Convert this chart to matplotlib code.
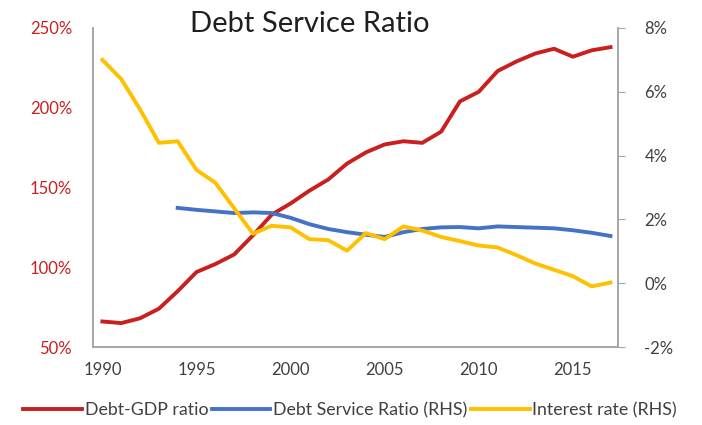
import matplotlib
matplotlib.use("Agg")
import matplotlib.pyplot as plt
from matplotlib.ticker import FuncFormatter

years = list(range(1990, 2018))
debt_gdp = [66, 65, 68, 74, 85, 97, 102, 108, 120, 133, 140, 148, 155, 165,
            172, 177, 179, 178, 185, 204, 210, 223, 229, 234, 237, 232, 236, 238]
dsr_years = list(range(1994, 2018))
dsr = [2.36, 2.3, 2.25, 2.2, 2.22, 2.2, 2.05, 1.85, 1.7, 1.6, 1.52, 1.45,
       1.6, 1.7, 1.75, 1.76, 1.72, 1.78, 1.76, 1.74, 1.72, 1.66, 1.58, 1.48]
interest = [7.0, 6.4, 5.45, 4.4, 4.45, 3.55, 3.15, 2.35, 1.55, 1.8, 1.75, 1.38,
            1.35, 1.02, 1.57, 1.38, 1.78, 1.65, 1.45, 1.32, 1.18, 1.12, 0.88,
            0.62, 0.42, 0.22, -0.1, 0.02]

left_ticks = [50, 100, 150, 200, 250]
right_ticks = [-2, 0, 2, 4, 6, 8]
x_ticks = [1990, 1995, 2000, 2005, 2010, 2015]

RED = "#C8201E"
BLUE = "#4472C4"
YELLOW = "#FFC000"
GRAY = "#404040"
SPINE = "#A6A6A6"

plt.rcParams['font.family'] = ['Lato', 'DejaVu Sans']

fig = plt.figure(figsize=(7.02, 4.25), dpi=100)
ax = fig.add_axes([93/702, 1-347/425, (618-93)/702, (347-28)/425])
ax2 = ax.twinx()

l1, = ax.plot(years, debt_gdp, color=RED, lw=2.8, solid_joinstyle='round',
              label="Debt-GDP ratio")
l2, = ax2.plot(dsr_years, dsr, color=BLUE, lw=2.8, solid_joinstyle='round',
               label="Debt Service Ratio (RHS)")
l3, = ax2.plot(years, interest, color=YELLOW, lw=2.8, solid_joinstyle='round',
               label="Interest rate (RHS)")

ax.set_xlim(1989.5, 2017.4)
ax.set_ylim(50, 250)
ax2.set_ylim(-2, 8)
ax.set_xticks(x_ticks)
ax.set_yticks(left_ticks)
ax2.set_yticks(right_ticks)
ax.yaxis.set_major_formatter(FuncFormatter(lambda v, p: f"{v:.0f}%"))
ax2.yaxis.set_major_formatter(FuncFormatter(lambda v, p: f"{v:.0f}%"))

for a in (ax, ax2):
    for s in a.spines.values():
        s.set_color(SPINE)
        s.set_linewidth(1.2)
    a.spines['top'].set_visible(False)

ax.tick_params(axis='y', length=0, pad=15, labelsize=12, labelcolor=RED)
ax.tick_params(axis='x', length=0, pad=11, labelsize=12, labelcolor=GRAY)
ax2.tick_params(axis='y', length=5, color=SPINE, pad=14, labelsize=12,
                labelcolor=GRAY)

fig.text(310/702, 1-24/425, "Debt Service Ratio", ha='center', va='center',
         fontsize=21, color="#202020")

fig.legend(handles=[l1, l2, l3], loc='center', bbox_to_anchor=(350/702, 1-410/425),
           ncol=3, frameon=False, fontsize=12.8, handlelength=3.3, handletextpad=0.15,
           columnspacing=0.2, labelcolor=GRAY)

fig.savefig("out.png", dpi=100)
